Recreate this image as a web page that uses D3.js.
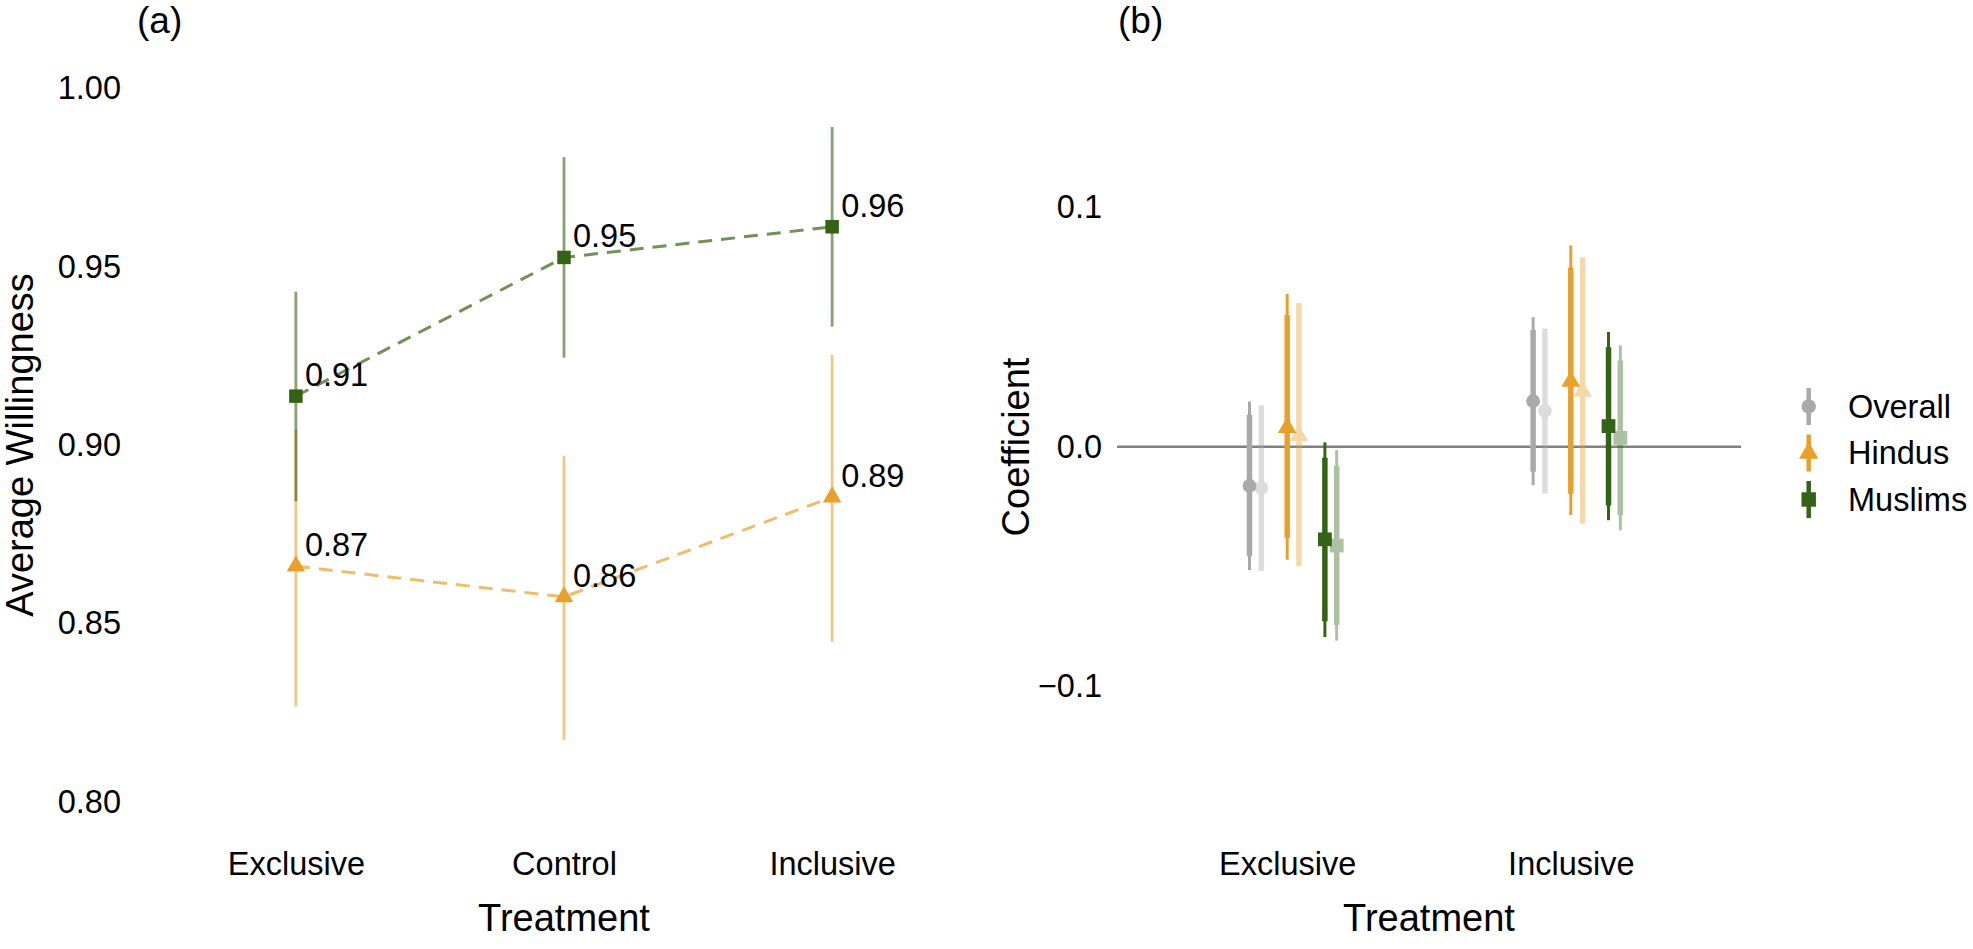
<!DOCTYPE html>
<html>
<head>
<meta charset="utf-8">
<script src="https://cdn.jsdelivr.net/npm/d3@7"></script>
<style>
  html, body { margin: 0; padding: 0; background: #ffffff; }
  svg text { font-family: "Liberation Sans", Arial, Helvetica, sans-serif; fill: #000; }
</style>
</head>
<body>
<svg id="chart" width="1973" height="949"></svg>
<script>
// ---------------- DATA ----------------
// Panel (a)
const catsA = ["Exclusive", "Control", "Inclusive"];
const yTicksA = [0.80, 0.85, 0.90, 0.95, 1.00];
const hinduMean = [0.8660, 0.8574, 0.8854];
const hinduLo   = [0.8267, 0.8172, 0.8448];
const hinduHi   = [0.9043, 0.8970, 0.9253];
const muslimMean = [0.9137, 0.9526, 0.9612];
const muslimLo   = [0.8842, 0.9245, 0.9332];
const muslimHi   = [0.9430, 0.9807, 0.9892];

// Panel (b) rows: Overall, Hindus, Muslims; columns: Exclusive, Inclusive
const catsB = ["Exclusive", "Inclusive"];
const groupsB = ["Overall", "Hindus", "Muslims"];
const yTicksB = [-0.1, 0.0, 0.1];
const estMain  = [[-0.0164, 0.0190], [0.0080, 0.0273], [-0.0387, 0.0086]];
const lo95Main = [[-0.0515, -0.0161], [-0.0472, -0.0285], [-0.0795, -0.0307]];
const lo90Main = [[-0.0458, -0.0105], [-0.0381, -0.0197], [-0.0729, -0.0246]];
const hi90Main = [[0.0133, 0.0487], [0.0549, 0.0749], [-0.0046, 0.0415]];
const hi95Main = [[0.0189, 0.0541], [0.0638, 0.0840], [0.0018, 0.0479]];
const estAlt  = [[-0.0172, 0.0150], [0.0045, 0.0231], [-0.0413, 0.0037]];
const lo95Alt = [[-0.0518, -0.0196], [-0.0499, -0.0321], [-0.0810, -0.0349]];
const lo90Alt = [[-0.0518, -0.0196], [-0.0499, -0.0321], [-0.0745, -0.0286]];
const hi90Alt = [[0.0172, 0.0493], [0.0599, 0.0790], [-0.0081, 0.0360]];
const hi95Alt = [[0.0172, 0.0493], [0.0599, 0.0790], [-0.0014, 0.0423]];

// ---------------- STYLE ----------------
const colGrey = "#A9A9A9", colOrange = "#E8A02A", colGreen = "#356316";
const groupColor = { Overall: colGrey, Hindus: colOrange, Muslims: colGreen };
const groupShape = { Overall: d3.symbolCircle, Hindus: d3.symbolTriangle, Muslims: d3.symbolSquare };
const groupSize  = { Overall: 150, Hindus: 150, Muslims: 190 };
const tickFont = "32.5px", titleFont = "38px";

const svg = d3.select("#chart");
svg.append("rect").attr("width", 1973).attr("height", 949).attr("fill", "#fff");

// ================= PANEL (a) =================
const gA = svg.append("g");
const xA = d3.scalePoint().domain(catsA).range([135, 993]).padding(0.6);
const yA = d3.scaleLinear().domain([0.8, 1.0]).range([801.6, 88.4]);

const seriesA = [
  { name: "Hindus", color: colOrange, shape: d3.symbolTriangle, size: 150, mean: hinduMean, lo: hinduLo, hi: hinduHi },
  { name: "Muslims", color: colGreen, shape: d3.symbolSquare, size: 182, mean: muslimMean, lo: muslimLo, hi: muslimHi }
];

// error bars
seriesA.forEach(s => {
  gA.append("g").selectAll("line").data(catsA).join("line")
    .attr("x1", d => xA(d)).attr("x2", d => xA(d))
    .attr("y1", (d, i) => yA(s.lo[i])).attr("y2", (d, i) => yA(s.hi[i]))
    .attr("stroke", s.color).attr("stroke-width", 2.8).attr("stroke-opacity", 0.6);
});
// dashed lines
seriesA.forEach(s => {
  const line = d3.line().x(d => xA(d)).y((d, i) => yA(s.mean[i]));
  gA.append("path").datum(catsA).attr("d", line)
    .attr("fill", "none").attr("stroke", s.color).attr("stroke-width", 3)
    .attr("stroke-opacity", 0.7).attr("stroke-dasharray", "14,9");
});
// points + labels
seriesA.forEach(s => {
  gA.append("g").selectAll("path").data(catsA).join("path")
    .attr("d", d3.symbol().type(s.shape).size(s.size))
    .attr("transform", (d, i) => `translate(${xA(d)},${yA(s.mean[i])})`)
    .attr("fill", s.color);
  gA.append("g").selectAll("text").data(catsA).join("text")
    .attr("x", d => xA(d) + 9).attr("y", (d, i) => yA(s.mean[i]) - 10)
    .style("font-size", tickFont)
    .text((d, i) => d3.format(".2f")(s.mean[i]));
});

// axes
const axA_y = gA.append("g").attr("transform", "translate(130,0)")
  .call(d3.axisLeft(yA).tickValues(yTicksA).tickFormat(d3.format(".2f")).tickSize(0).tickPadding(9));
const axA_x = gA.append("g").attr("transform", "translate(0,840)")
  .call(d3.axisBottom(xA).tickSize(0).tickPadding(12));
[axA_y, axA_x].forEach(ax => {
  ax.select(".domain").remove();
  ax.selectAll("text").style("font-size", tickFont).attr("fill", "#000")
    .style("font-family", '"Liberation Sans", Arial, sans-serif');
});
gA.append("text").attr("x", 564).attr("y", 931).attr("text-anchor", "middle")
  .style("font-size", titleFont).text("Treatment");
gA.append("text").attr("transform", "translate(33,445) rotate(-90)").attr("text-anchor", "middle")
  .style("font-size", titleFont).text("Average Willingness");
gA.append("text").attr("x", 137).attr("y", 33).style("font-size", "37px").text("(a)");

// ================= PANEL (b) =================
const gB = svg.append("g");
const xB = d3.scalePoint().domain(catsB).range([1117, 1741]).padding(0.6);
const yB = d3.scaleLinear().domain([-0.1, 0.1]).range([686.1, 207.3]);
const dodge = d3.scalePoint().domain(groupsB).range([-37.7, 37.7]);
const altShift = 11.8;

gB.append("line").attr("x1", 1117).attr("x2", 1741)
  .attr("y1", yB(0)).attr("y2", yB(0))
  .attr("stroke", "#808080").attr("stroke-width", 2.4);

const models = [
  { shift: altShift, opacity: 0.4, est: estAlt, lo95: lo95Alt, lo90: lo90Alt, hi90: hi90Alt, hi95: hi95Alt },
  { shift: 0, opacity: 1, est: estMain, lo95: lo95Main, lo90: lo90Main, hi90: hi90Main, hi95: hi95Main }
];
const rowsB = [];
groupsB.forEach((g, gi) => catsB.forEach((c, ci) => rowsB.push({ g, gi, c, ci })));

models.forEach(m => {
  const gm = gB.append("g").attr("opacity", m.opacity);
  const xPos = r => xB(r.c) + dodge(r.g) + m.shift;
  gm.append("g").selectAll("line").data(rowsB).join("line")
    .attr("x1", xPos).attr("x2", xPos)
    .attr("y1", r => yB(m.lo95[r.gi][r.ci])).attr("y2", r => yB(m.hi95[r.gi][r.ci]))
    .attr("stroke", r => groupColor[r.g]).attr("stroke-width", 3);
  gm.append("g").selectAll("line").data(rowsB).join("line")
    .attr("x1", xPos).attr("x2", xPos)
    .attr("y1", r => yB(m.lo90[r.gi][r.ci])).attr("y2", r => yB(m.hi90[r.gi][r.ci]))
    .attr("stroke", r => groupColor[r.g]).attr("stroke-width", 5.5);
  gm.append("g").selectAll("path").data(rowsB).join("path")
    .attr("d", r => d3.symbol().type(groupShape[r.g]).size(groupSize[r.g])())
    .attr("transform", r => `translate(${xPos(r)},${yB(m.est[r.gi][r.ci])})`)
    .attr("fill", r => groupColor[r.g]);
});

const axB_y = gB.append("g").attr("transform", "translate(1111,0)")
  .call(d3.axisLeft(yB).tickValues(yTicksB).tickFormat(d3.format(".1f")).tickSize(0).tickPadding(9));
const axB_x = gB.append("g").attr("transform", "translate(0,840)")
  .call(d3.axisBottom(xB).tickSize(0).tickPadding(12));
[axB_y, axB_x].forEach(ax => {
  ax.select(".domain").remove();
  ax.selectAll("text").style("font-size", tickFont).attr("fill", "#000")
    .style("font-family", '"Liberation Sans", Arial, sans-serif');
});
gB.append("text").attr("x", 1429).attr("y", 931).attr("text-anchor", "middle")
  .style("font-size", titleFont).text("Treatment");
gB.append("text").attr("transform", "translate(1029,447) rotate(-90)").attr("text-anchor", "middle")
  .style("font-size", titleFont).text("Coefficient");
gB.append("text").attr("x", 1118).attr("y", 33).style("font-size", "37px").text("(b)");

// legend
const legY = d3.scalePoint().domain(groupsB).range([406.5, 499.5]);
const leg = gB.append("g");
groupsB.forEach(g => {
  const y = legY(g);
  leg.append("line").attr("x1", 1808.7).attr("x2", 1808.7).attr("y1", y - 18.5).attr("y2", y + 18.5)
    .attr("stroke", groupColor[g]).attr("stroke-width", 4.5);
  leg.append("path").attr("d", d3.symbol().type(groupShape[g]).size(groupSize[g] * 1.1)())
    .attr("transform", `translate(1808.7,${y})`).attr("fill", groupColor[g]);
  leg.append("text").attr("x", 1848).attr("y", y).attr("dy", "0.35em")
    .style("font-size", tickFont).text(g);
});
</script>
</body>
</html>
